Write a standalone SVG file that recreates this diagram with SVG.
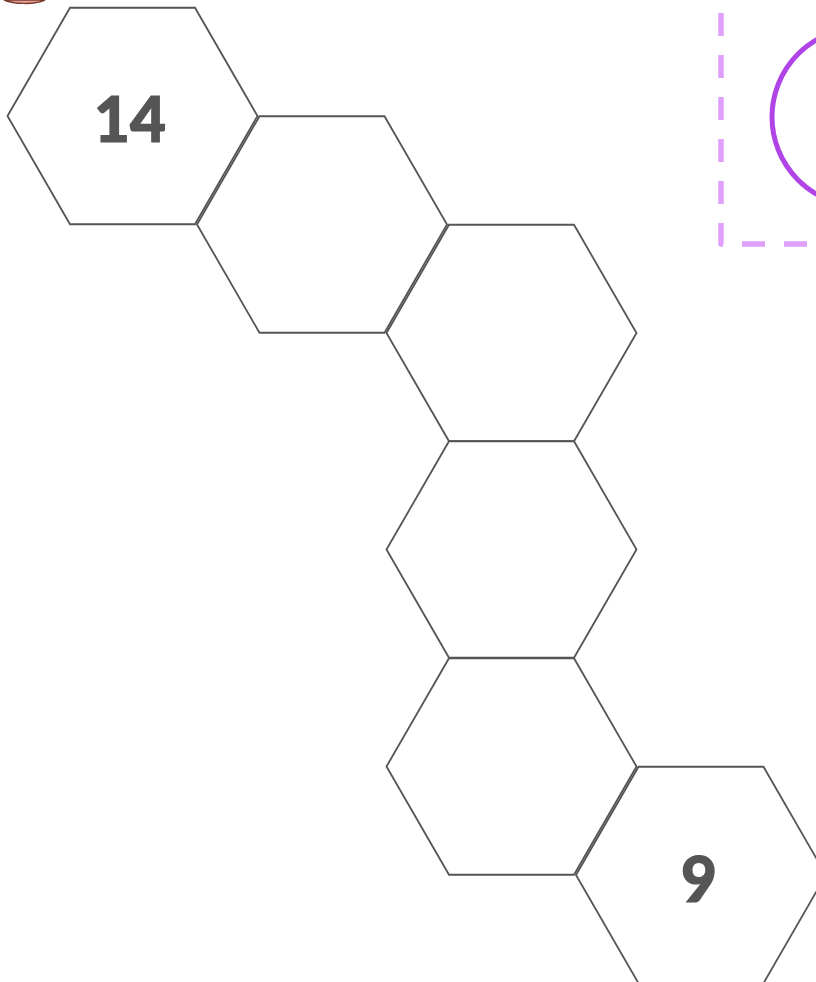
<svg xmlns="http://www.w3.org/2000/svg" width="816" height="982" viewBox="0 0 816 982">
<style>
.hex{fill:#fff;stroke:#555;stroke-width:1.8;stroke-linejoin:miter}
.lbl{font-family:Lato,"Noto Sans",sans-serif;font-weight:900;font-size:62px;fill:#555;stroke:#555;stroke-width:1.2;text-anchor:middle}
</style>
<defs>
<polygon id="h" points="-125,0 -62.5,-108.25 62.5,-108.25 125,0 62.5,108.25 -62.5,108.25"/>
</defs>
<rect width="816" height="982" fill="#fff"/>
<path d="M4,0 C14,4 34,5 45,0 Z" fill="#e9a295" stroke="#7a3a30" stroke-width="1.5"/>
<g id="zone">
<path d="M721,13 L721,244 L830,244" fill="none" stroke="#dfa0fb" stroke-width="5.5" stroke-dasharray="23 19" stroke-linecap="butt" stroke-linejoin="round"/>
<circle cx="861" cy="117" r="89" fill="none" stroke="#b044e6" stroke-width="5"/>
</g>
<g id="hex1"><use href="#h" class="hex" x="132.5" y="116"/><text class="lbl" x="130" y="142">14</text></g>
<g id="hex2"><use href="#h" class="hex" x="322" y="224.5"/></g>
<g id="hex3"><use href="#h" class="hex" x="511.5" y="333"/></g>
<g id="hex4"><use href="#h" class="hex" x="511.5" y="549.5"/></g>
<g id="hex5"><use href="#h" class="hex" x="511.5" y="766.5"/></g>
<g id="hex6"><use href="#h" class="hex" x="701" y="875"/><text class="lbl" x="699" y="902">9</text></g>
<g id="connectors"></g>
</svg>
